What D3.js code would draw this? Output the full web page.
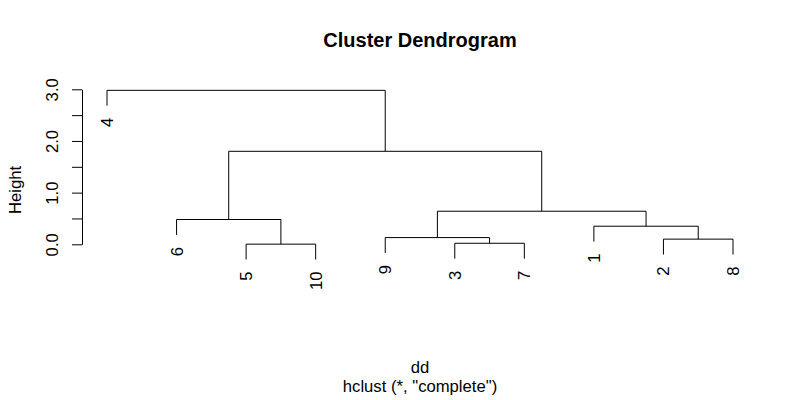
<!DOCTYPE html>
<html>
<head>
<meta charset="utf-8">
<script src="https://cdn.jsdelivr.net/npm/d3@7"></script>
<style>
  body { margin: 0; background: #fff; }
  text { font-family: "Liberation Sans", Arial, sans-serif; fill: #000; }
</style>
</head>
<body>
<div id="canvas"></div>
<script>
// hclust output, R style: negative = leaf, positive = earlier merge step
const leafLabels = ["1", "2", "3", "4", "5", "6", "7", "8", "9", "10"];
const mergeLeft = [-5, -3, -2, -9, -1, -6, 4, 6, -4];
const mergeRight = [-10, -7, -8, 2, 3, 1, 5, 7, 8];
const mergeHeights = [0.003, 0.02, 0.10, 0.13, 0.35, 0.48, 0.64, 1.80, 2.98];
const yTicks = [0, 0.5, 1, 1.5, 2, 2.5, 3];

const width = 800;
const height = 400;
// plot region 82..758 x 82..298, one margin line = 20px
const margin = { top: 82, left: 82, bottom: 102, right: 42 };
const fs = "16.67px";

const svg = d3.select("#canvas").append("svg")
  .attr("width", width)
  .attr("height", height);

// nested tree from the merge matrix
const build = (id) => id < 0
  ? { name: leafLabels[-id - 1], h: null }
  : { h: mergeHeights[id - 1], children: [build(mergeLeft[id - 1]), build(mergeRight[id - 1])] };
const root = d3.hierarchy(build(mergeLeft.length));

const leaves = root.leaves();
const x = d3.scaleLinear()
  .domain([0, leaves.length - 1])
  .range([107, 733]);

const y = d3.scaleLinear()
  .domain([0, 3])
  .range([244.3, 89.3]);

const hang = 0.1 * (d3.max(mergeHeights) - d3.min(mergeHeights));

leaves.forEach((d, i) => { d.px = x(i); d.data.h = d.parent.data.h - hang; });
root.eachAfter(d => {
  if (d.children) d.px = d3.mean(d.children, c => c.px);
});

const g = svg.append("g");

// dendrogram branches
root.descendants().filter(d => d.children).forEach(d => {
  const [a, b] = d.children;
  const pts = [[a.px, y(a.data.h)], [a.px, y(d.data.h)], [b.px, y(d.data.h)], [b.px, y(b.data.h)]];
  g.append("path")
    .attr("d", d3.line()(pts))
    .attr("fill", "none")
    .attr("stroke", "#000")
    .attr("stroke-width", 1);
});

// leaf labels
g.selectAll(".leaf")
  .data(leaves)
  .enter().append("text")
  .attr("class", "leaf")
  .attr("transform", d => `translate(${d.px},${y(d.data.h) + 12}) rotate(-90)`)
  .attr("dy", "0.36em")
  .attr("text-anchor", "end")
  .style("font-size", fs)
  .text(d => d.data.name);

// y axis
const axis = svg.append("g")
  .attr("transform", `translate(${margin.left},0)`)
  .call(d3.axisLeft(y).tickValues(yTicks).tickSize(10).tickSizeOuter(0)
    .tickFormat(d => Number.isInteger(d) ? d3.format(".1f")(d) : ""));
axis.select(".domain").attr("stroke", "#000");
axis.selectAll(".tick line").attr("stroke", "#000");
axis.selectAll(".tick text")
  .attr("transform", "rotate(-90)")
  .attr("x", 0)
  .attr("y", -24)
  .attr("dy", 0)
  .attr("text-anchor", "middle")
  .style("font-size", fs)
  .style("font-family", "Liberation Sans, Arial, sans-serif")
  .attr("fill", "#000");

const cx = (margin.left + width - margin.right) / 2;

svg.append("text")
  .attr("transform", `translate(21,${(margin.top + height - margin.bottom) / 2}) rotate(-90)`)
  .attr("text-anchor", "middle")
  .style("font-size", fs)
  .text("Height");

svg.append("text")
  .attr("x", cx).attr("y", 47)
  .attr("text-anchor", "middle")
  .style("font-size", "20px")
  .style("font-weight", "bold")
  .text("Cluster Dendrogram");

svg.append("text")
  .attr("x", cx).attr("y", 373)
  .attr("text-anchor", "middle")
  .style("font-size", fs)
  .text("dd");

svg.append("text")
  .attr("x", cx).attr("y", 392)
  .attr("text-anchor", "middle")
  .style("font-size", fs)
  .text("hclust (*, \"complete\")");
</script>
</body>
</html>
